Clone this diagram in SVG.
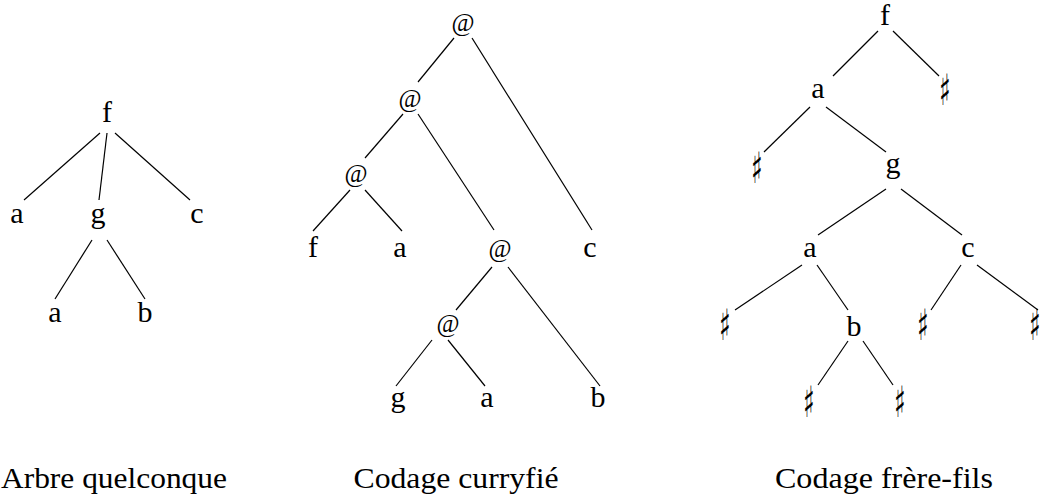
<svg xmlns="http://www.w3.org/2000/svg" width="1041" height="501" viewBox="0 0 1041 501">
<style>
.lbl{font-family:"Liberation Serif","DejaVu Serif",serif;font-size:30px;fill:#000;text-anchor:middle}
.at{font-family:"Liberation Serif","DejaVu Serif",serif;font-size:25px;fill:#000;text-anchor:middle}
.sh{font-family:"DejaVu Sans",sans-serif;font-size:24px;fill:#000;text-anchor:middle}
.cap{font-family:"Liberation Serif","DejaVu Serif",serif;font-size:30px;fill:#000;text-anchor:middle}
.e line{stroke:#000;stroke-width:1.2}
</style>
<rect width="1041" height="501" fill="#fff"/>
<g id="connectors" class="e">
<line x1="100" y1="133" x2="24" y2="200"/>
<line x1="107" y1="133" x2="99" y2="200"/>
<line x1="115" y1="133" x2="190" y2="200"/>
<line x1="92" y1="240" x2="55" y2="299"/>
<line x1="107" y1="240" x2="145" y2="299"/>
<line x1="454" y1="38" x2="418" y2="82"/>
<line x1="472" y1="38" x2="592" y2="230"/>
<line x1="403" y1="114" x2="365" y2="158"/>
<line x1="418" y1="114" x2="494" y2="230"/>
<line x1="350" y1="190" x2="313" y2="231"/>
<line x1="365" y1="190" x2="402" y2="231"/>
<line x1="492" y1="267" x2="456" y2="310"/>
<line x1="508" y1="267" x2="600" y2="386"/>
<line x1="432" y1="340" x2="396" y2="386"/>
<line x1="448" y1="340" x2="485" y2="386"/>
<line x1="878" y1="31" x2="833" y2="76"/>
<line x1="893" y1="31" x2="939" y2="76"/>
<line x1="810" y1="107" x2="764" y2="152"/>
<line x1="826" y1="107" x2="886" y2="152"/>
<line x1="886" y1="189" x2="818" y2="235"/>
<line x1="901" y1="189" x2="962" y2="235"/>
<line x1="802" y1="265" x2="735" y2="310"/>
<line x1="817" y1="265" x2="848" y2="310"/>
<line x1="961" y1="265" x2="931" y2="310"/>
<line x1="977" y1="265" x2="1038" y2="310"/>
<line x1="848" y1="341" x2="818" y2="385"/>
<line x1="863" y1="341" x2="893" y2="385"/>
</g>
<g id="t1-f"><text class="lbl" x="107" y="122">f</text></g>
<g id="t1-a"><text class="lbl" x="17" y="223">a</text></g>
<g id="t1-g"><text class="lbl" x="98" y="223">g</text></g>
<g id="t1-c"><text class="lbl" x="197" y="223">c</text></g>
<g id="t1-a2"><text class="lbl" x="55" y="322">a</text></g>
<g id="t1-b"><text class="lbl" x="145" y="322">b</text></g>
<g id="t2-at1"><text class="at" x="463" y="31">@</text></g>
<g id="t2-at2"><text class="at" x="410" y="107">@</text></g>
<g id="t2-at3"><text class="at" x="356" y="182">@</text></g>
<g id="t2-f"><text class="lbl" x="313" y="257">f</text></g>
<g id="t2-a"><text class="lbl" x="400" y="257">a</text></g>
<g id="t2-at4"><text class="at" x="500" y="257">@</text></g>
<g id="t2-c"><text class="lbl" x="590" y="257">c</text></g>
<g id="t2-at5"><text class="at" x="448" y="332">@</text></g>
<g id="t2-g"><text class="lbl" x="398" y="407">g</text></g>
<g id="t2-a2"><text class="lbl" x="487" y="407">a</text></g>
<g id="t2-b"><text class="lbl" x="598" y="407">b</text></g>
<g id="t3-f"><text class="lbl" x="885" y="25">f</text></g>
<g id="t3-a"><text class="lbl" x="818" y="98">a</text></g>
<g id="t3-s1"><text class="sh" transform="translate(945,105) scale(1,1.8)">♯</text></g>
<g id="t3-s2"><text class="sh" transform="translate(757,183) scale(1,1.8)">♯</text></g>
<g id="t3-g"><text class="lbl" x="893" y="173">g</text></g>
<g id="t3-a2"><text class="lbl" x="810" y="257">a</text></g>
<g id="t3-c"><text class="lbl" x="968" y="257">c</text></g>
<g id="t3-s3"><text class="sh" transform="translate(725,340) scale(1,1.8)">♯</text></g>
<g id="t3-b"><text class="lbl" x="854" y="336">b</text></g>
<g id="t3-s4"><text class="sh" transform="translate(923,340) scale(1,1.8)">♯</text></g>
<g id="t3-s5"><text class="sh" transform="translate(1035,340) scale(1,1.8)">♯</text></g>
<g id="t3-s6"><text class="sh" transform="translate(809,417) scale(1,1.8)">♯</text></g>
<g id="t3-s7"><text class="sh" transform="translate(900,417) scale(1,1.8)">♯</text></g>
<g id="captions">
<text class="cap" x="114" y="488" textLength="226" lengthAdjust="spacingAndGlyphs">Arbre quelconque</text>
<text class="cap" x="456" y="488" textLength="205" lengthAdjust="spacingAndGlyphs">Codage curryfié</text>
<text class="cap" x="884" y="488" textLength="218" lengthAdjust="spacingAndGlyphs">Codage frère-fils</text>
</g>
</svg>
